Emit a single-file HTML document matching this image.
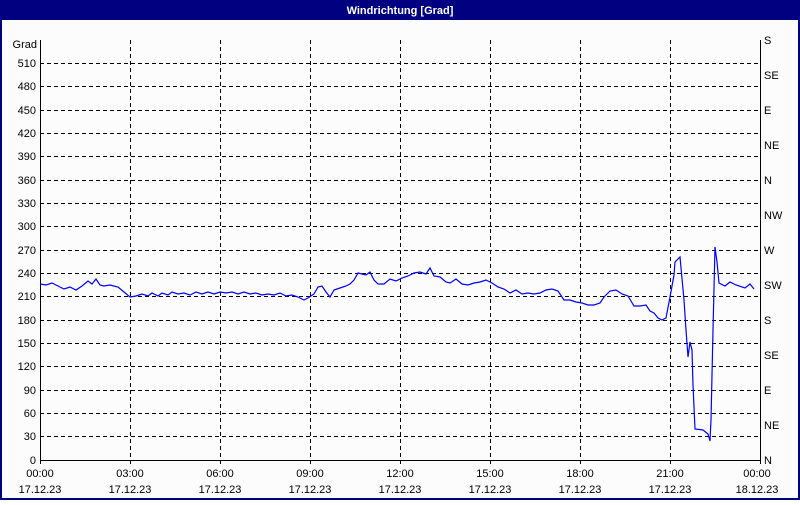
<!DOCTYPE html>
<html><head><style>
body{margin:0;width:800px;height:500px;overflow:hidden;background:#fff}
</style></head><body>
<svg width="800" height="500" xmlns="http://www.w3.org/2000/svg" font-family="Liberation Sans, sans-serif" font-size="11">
<rect x="0" y="0" width="800" height="500" fill="#000080"/>
<rect x="2" y="20" width="796" height="478" fill="#fcfcfc"/>
<text x="400" y="14" fill="#fff" font-weight="bold" text-anchor="middle">Windrichtung [Grad]</text>
<g stroke="#000" stroke-dasharray="4,3" stroke-width="1">
<path d="M130.5 40V460M220.5 40V460M310.5 40V460M400.5 40V460M490.5 40V460M580.5 40V460M670.5 40V460"/>
<path d="M40 63.5H760M40 86.5H760M40 110.5H760M40 133.5H760M40 156.5H760M40 180.5H760M40 203.5H760M40 226.5H760M40 250.5H760M40 273.5H760M40 296.5H760M40 320.5H760M40 343.5H760M40 366.5H760M40 390.5H760M40 413.5H760M40 436.5H760"/>
</g>
<path d="M40.5 40V460.5H760.5V40" fill="none" stroke="#000"/>
<g stroke="#000"><path d="M130.5 460v4M220.5 460v4M310.5 460v4M400.5 460v4M490.5 460v4M580.5 460v4M670.5 460v4M40.5 460v4M760.5 460v4"/></g>
<g text-anchor="end">
<text x="37" y="48">Grad</text>
<text x="36" y="67">510</text><text x="36" y="90">480</text><text x="36" y="114">450</text>
<text x="36" y="137">420</text><text x="36" y="160">390</text><text x="36" y="184">360</text>
<text x="36" y="207">330</text><text x="36" y="230">300</text><text x="36" y="254">270</text>
<text x="36" y="277">240</text><text x="36" y="300">210</text><text x="36" y="324">180</text>
<text x="36" y="347">150</text><text x="36" y="370">120</text><text x="36" y="394">90</text>
<text x="36" y="417">60</text><text x="36" y="440">30</text><text x="36" y="464">0</text>
</g>
<g>
<text x="764" y="44">S</text><text x="764" y="79">SE</text><text x="764" y="114">E</text>
<text x="764" y="149">NE</text><text x="764" y="184">N</text><text x="764" y="219">NW</text>
<text x="764" y="254">W</text><text x="764" y="289">SW</text><text x="764" y="324">S</text>
<text x="764" y="359">SE</text><text x="764" y="394">E</text><text x="764" y="429">NE</text>
<text x="764" y="464">N</text>
</g>
<g text-anchor="middle">
<text x="40" y="477">00:00</text><text x="40" y="493">17.12.23</text>
<text x="130" y="477">03:00</text><text x="130" y="493">17.12.23</text>
<text x="220" y="477">06:00</text><text x="220" y="493">17.12.23</text>
<text x="310" y="477">09:00</text><text x="310" y="493">17.12.23</text>
<text x="400" y="477">12:00</text><text x="400" y="493">17.12.23</text>
<text x="490" y="477">15:00</text><text x="490" y="493">17.12.23</text>
<text x="580" y="477">18:00</text><text x="580" y="493">17.12.23</text>
<text x="670" y="477">21:00</text><text x="670" y="493">17.12.23</text>
<text x="757" y="477">00:00</text><text x="757" y="493">18.12.23</text>
</g>
<polyline fill="none" stroke="#0000ff" stroke-width="1.2" points="40,284 46,285 52,283 58,286 64,289 70,287 76,290 82,286 88,281 92,284 96,279 100,285 104,286 110,285 118,287 124,292 130,297 136,296 142,294 148,296 152,293 158,296 162,293 168,295 172,292 178,294 184,293 190,295 196,292 202,294 208,292 214,294 220,292 226,293 232,292 238,294 244,292 250,294 256,293 262,295 268,294 274,295 280,293 286,296 292,295 298,297 304,300 308,298 314,294 318,287 322,286 326,292 330,297 334,290 340,288 346,286 350,284 354,280 358,273 362,274 366,275 370,272 374,280 378,284 384,284 390,279 396,281 402,278 408,276 414,273 420,272 426,274 430,268 434,276 440,277 446,282 450,283 456,279 462,284 468,285 474,283 480,282 486,280 492,283 498,287 504,289 510,293 516,290 522,294 528,293 534,294 540,293 546,290 552,289 558,291 564,300 570,300 576,302 582,303 588,305 594,305 600,303 604,297 610,291 616,290 622,294 628,296 634,306 640,306 646,305 650,311 654,313 658,318 662,320 666,318 670,297 674,275 675,262 680,257 684,300 686,330 688,357 690,342 692,350 693,385 695,429 703,430 708,434 710,441 711,420 713,330 715,247 717,262 719,283 725,286 730,282 736,285 745,288 750,284 754,289"/>
</svg>
</body></html>
